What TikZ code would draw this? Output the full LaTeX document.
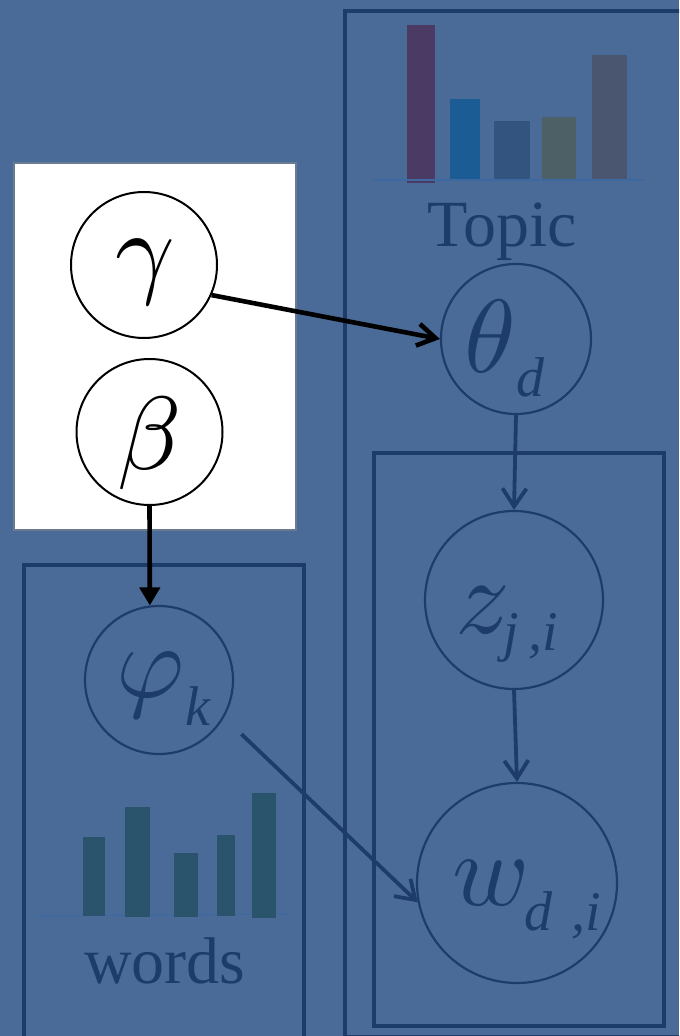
\documentclass[tikz,border=0pt]{standalone}
\usepackage{fontspec}
\setmainfont{Liberation Serif}
\usetikzlibrary{arrows.meta}
\definecolor{bg}{HTML}{4A6B98}
\definecolor{navy}{HTML}{1D3C69}
\definecolor{axis}{HTML}{3D68A0}
\definecolor{barA}{HTML}{4B3A63}
\definecolor{barB}{HTML}{1B5C94}
\definecolor{barC}{HTML}{32547E}
\definecolor{barD}{HTML}{4C6066}
\definecolor{barE}{HTML}{4A556F}
\definecolor{barW}{HTML}{29546C}
\definecolor{edgegray}{HTML}{6A7A90}
% large math-italic symbols, scaled up
\newcommand{\bigsym}[2][5.2]{\scalebox{#1}{$#2$}}
\begin{document}
\begin{tikzpicture}[x=0.5pt,y=-0.5pt,
  plate/.style={draw=navy, line width=2.2pt},
  var/.style={circle, draw=navy, line width=1.1pt, inner sep=0pt},
  hyper/.style={circle, draw=black, fill=white, line width=1pt, inner sep=0pt},
  glyph/.style={font=\fontsize{10}{12}\selectfont, inner sep=0pt},
  subglyph/.style={font=\fontsize{28}{32}\selectfont\itshape, inner sep=0pt},
  caption/.style={font=\fontsize{33}{38}\selectfont, text=navy, inner sep=0pt},
  blackarrow/.style={draw=black, line width=2.3pt},
  navyarrow/.style={draw=navy, line width=1.9pt, -{Straight Barb[length=9pt,width=12pt]}}
]
\useasboundingbox (0,0) rectangle (679,1036);
\clip (0,0) rectangle (679,1036);
\fill[bg] (0,0) rectangle (679,1036);

% plates
\draw[plate] (345,11) rectangle (700,1037);
\draw[plate] (374,453) rectangle (664,1026);
\draw[plate] (24,565) rectangle (304,1040);

% hyperparameter panel
\fill[white] (14,163) rectangle (296,530);
\draw[edgegray, line width=0.8pt] (14,163) rectangle (296,530);

% topic histogram
\fill[barA] (407,25) rectangle (435,183);
\fill[barB] (450,99) rectangle (480,181);
\fill[barC] (494,121) rectangle (530,180);
\fill[barD] (542,117) rectangle (576,180);
\fill[barE] (592,55) rectangle (627,180);
\draw[axis, line width=0.6pt] (373,180) -- (644,180);
\node[caption, anchor=base] (topic) at (502,247) {Topic};

% word histogram
\draw[axis, line width=0.6pt] (39,916) -- (289,914);
\fill[barW] (83,837) rectangle (105,916);
\fill[barW] (125,807) rectangle (150,917);
\fill[barW] (174,853) rectangle (198,917);
\fill[barW] (217,835) rectangle (235,916);
\fill[barW] (252,793) rectangle (276,918);
\node[caption, anchor=base] (words) at (165,983) {words};

% circles
\node[hyper, minimum size=73pt] (gamma) at (144,265) {};
\node[hyper, minimum size=73pt] (beta) at (149.5,432) {};
\node[var, minimum size=75pt] (theta) at (516,339) {};
\node[var, minimum size=89pt] (z) at (514,600) {};
\node[var, minimum size=100pt] (w) at (517,883) {};
\node[var, minimum size=74pt] (phi) at (159,680) {};

% symbols
\node[glyph, anchor=base] (gl) at (145,285) {\bigsym{\gamma}};
\node[glyph, anchor=base] (bl) at (150,469) {\bigsym{\beta}};
\node[glyph, text=navy, anchor=base west] (tl) at (464,373) {\bigsym{\theta}};
\node[subglyph, text=navy, anchor=base west] (tsub) at (516,397) {d};
\node[glyph, text=navy, anchor=base] (pl) at (151,697) {\bigsym{\varphi}};
\node[subglyph, text=navy, anchor=base west] (psub) at (185,725) {k};
\node[glyph, text=navy, anchor=base west] (zl) at (455,633) {\bigsym[5.4]{z}};
\node[subglyph, text=navy, anchor=base west] (zsub) at (503,650) {j\,,i};
\node[glyph, text=navy, anchor=base west] (wl) at (452,905) {\bigsym[5.2]{w}};
\node[subglyph, text=navy, anchor=base west] (wsub) at (524,930) {d\,\,,i};

% edges
\draw[blackarrow, -{Straight Barb[length=9pt,width=11pt]}] (gamma.-24) -- (theta.180);
\draw[blackarrow, -{Triangle[length=9pt,width=10pt]}] (beta.south) -- (phi.97);
\draw[navyarrow] (theta.south) -- (z.north);
\draw[navyarrow] (z.south) -- (w.north);
\draw[navyarrow, shorten <=12pt] (phi.-30) -- (w.191);
\end{tikzpicture}
\end{document}
